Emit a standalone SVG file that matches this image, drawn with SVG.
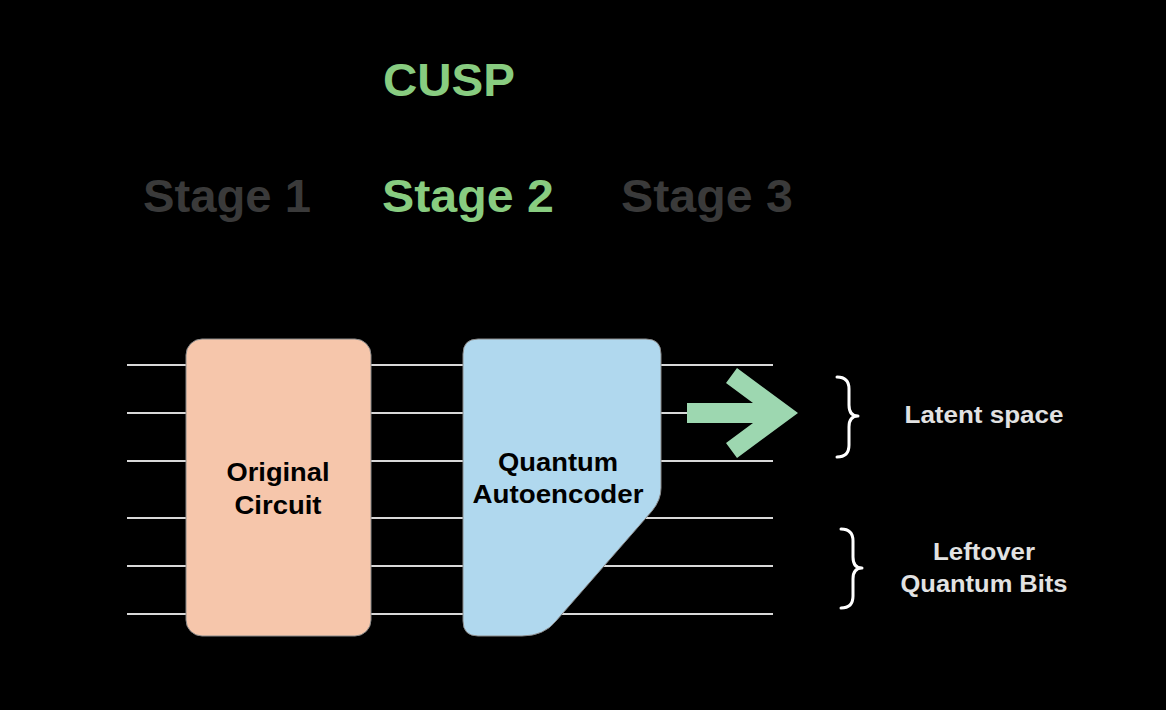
<svg xmlns="http://www.w3.org/2000/svg" width="1166" height="710" viewBox="0 0 1166 710">
<style>
.t{font-family:"Liberation Sans",Arial,Helvetica,sans-serif;font-weight:bold;text-anchor:middle}
.wire{stroke:#d8d8d8;stroke-width:2;fill:none}
.brace{stroke:#ffffff;stroke-width:3;fill:none;stroke-linecap:round;stroke-linejoin:round}
.lbl{fill:#e2e2e2;font-size:23px}
.box{font-size:26px;fill:#000}
</style>
<rect width="1166" height="710" fill="#000"/>
<g id="title">
<text class="t" x="449" y="96" font-size="46" fill="#88cc80" textLength="132" lengthAdjust="spacingAndGlyphs">CUSP</text>
</g>
<g id="stages">
<text class="t" x="227" y="212" font-size="47" fill="#3a3a3a" textLength="168" lengthAdjust="spacingAndGlyphs">Stage 1</text>
<text class="t" x="468" y="212" font-size="47" fill="#88cc80" textLength="172" lengthAdjust="spacingAndGlyphs">Stage 2</text>
<text class="t" x="707" y="212" font-size="47" fill="#3a3a3a" textLength="172" lengthAdjust="spacingAndGlyphs">Stage 3</text>
</g>
<g id="connectors">
<line class="wire" x1="127" y1="365" x2="773" y2="365"/>
<line class="wire" x1="127" y1="413" x2="773" y2="413"/>
<line class="wire" x1="127" y1="461" x2="773" y2="461"/>
<line class="wire" x1="127" y1="518" x2="773" y2="518"/>
<line class="wire" x1="127" y1="566" x2="773" y2="566"/>
<line class="wire" x1="127" y1="614" x2="773" y2="614"/>
<polygon points="687,403 753,403 726,383 737,368 798,413 737,458 726,443 753,423 687,423" fill="#9dd7b0"/>
</g>
<g id="original-circuit">
<rect x="186" y="339" width="185" height="297" rx="16" fill="#f6c6ab" stroke="#8a8a8a" stroke-width="1"/>
<text class="t box" x="278" y="481" textLength="103" lengthAdjust="spacingAndGlyphs">Original</text>
<text class="t box" x="278" y="514" textLength="87" lengthAdjust="spacingAndGlyphs">Circuit</text>
</g>
<g id="quantum-autoencoder">
<path d="M478,339 H646 Q661,339 661,354 V488 Q661,500 652,511 L556,621 Q544,636 522,636 H478 Q463,636 463,621 V354 Q463,339 478,339 Z" fill="#b0d8ee" stroke="#8a8a8a" stroke-width="1"/>
<text class="t box" x="558" y="471" textLength="120" lengthAdjust="spacingAndGlyphs">Quantum</text>
<text class="t box" x="558" y="503" textLength="171" lengthAdjust="spacingAndGlyphs">Autoencoder</text>
</g>
<g id="latent-space">
<path class="brace" d="M837,377 Q849,377 849,389 V405 Q849,416 858,416 Q849,416 849,427 V445 Q849,457 837,457"/>
<text class="t lbl" x="984" y="423" textLength="159" lengthAdjust="spacingAndGlyphs">Latent space</text>
</g>
<g id="leftover-bits">
<path class="brace" d="M841,529 Q853,529 853,541 V557 Q853,568 862,568 Q853,568 853,579 V596 Q853,608 841,608"/>
<text class="t lbl" x="984" y="560" textLength="102" lengthAdjust="spacingAndGlyphs">Leftover</text>
<text class="t lbl" x="984" y="592" textLength="167" lengthAdjust="spacingAndGlyphs">Quantum Bits</text>
</g>
</svg>
